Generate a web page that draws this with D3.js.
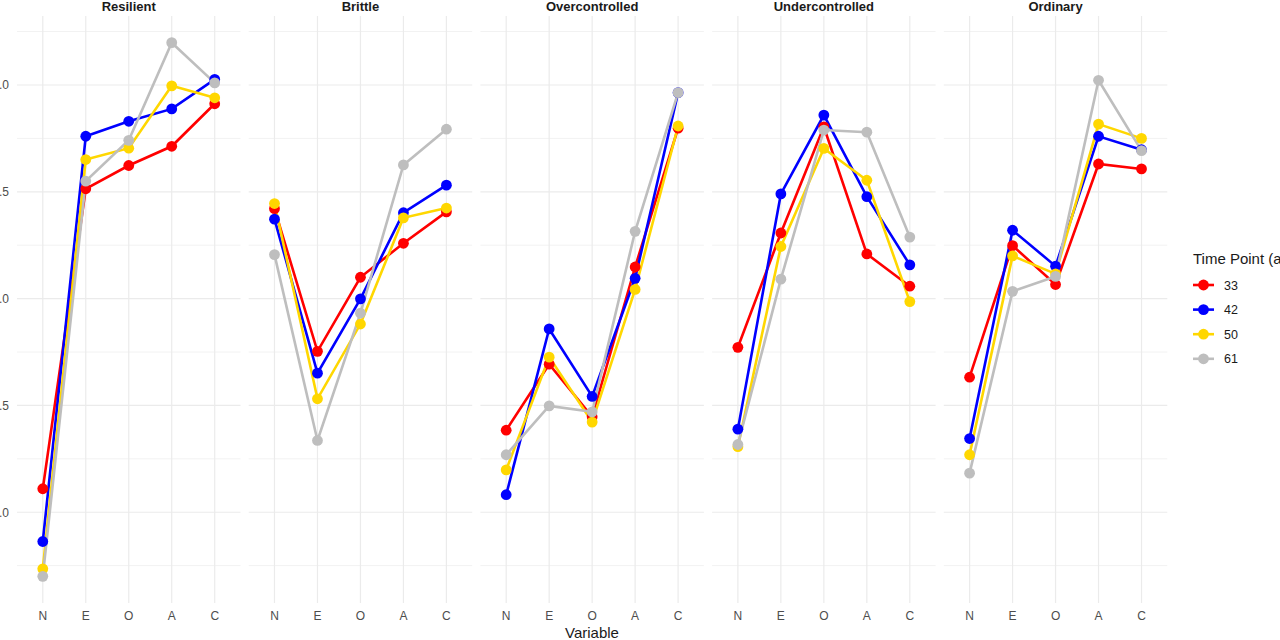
<!DOCTYPE html>
<html><head><meta charset="utf-8">
<script src="https://cdn.jsdelivr.net/npm/d3@7"></script>
<style>body{margin:0;background:#fff;}svg{display:block;font-family:"Liberation Sans",Arial,sans-serif;}</style>
</head><body><svg id="c" width="1280" height="640"></svg>
<script>
const panels = ["Resilient","Brittle","Overcontrolled","Undercontrolled","Ordinary"];
const variables = ["N","E","O","A","C"];
const timePoints = ["33","42","50","61"];
const colors = ["#ff0000","#0000ff","#ffd700","#bebebe"];
const yTicks = [-1.0,-0.5,0.0,0.5,1.0];
const yMinor = [-1.25,-0.75,-0.25,0.25,0.75,1.25];
// values[panel][timepoint] = [N,E,O,A,C]
const resilient = [
  [-0.89, 0.514, 0.623, 0.713, 0.912],
  [-1.137, 0.76, 0.83, 0.888, 1.026],
  [-1.265, 0.651, 0.704, 0.996, 0.94],
  [-1.30, 0.55, 0.741, 1.198, 1.01]];
const brittle = [
  [0.421, -0.247, 0.100, 0.259, 0.406],
  [0.372, -0.349, -0.001, 0.402, 0.531],
  [0.445, -0.469, -0.119, 0.378, 0.424],
  [0.206, -0.664, -0.068, 0.626, 0.793]];
const overcontrolled = [
  [-0.616, -0.307, -0.553, 0.148, 0.798],
  [-0.918, -0.142, -0.458, 0.095, 0.964],
  [-0.802, -0.274, -0.578, 0.043, 0.808],
  [-0.731, -0.502, -0.530, 0.315, 0.964]];
const undercontrolled = [
  [-0.228, 0.307, 0.804, 0.209, 0.058],
  [-0.611, 0.490, 0.859, 0.477, 0.158],
  [-0.693, 0.244, 0.703, 0.554, -0.014],
  [-0.683, 0.091, 0.789, 0.779, 0.288]];
const ordinary = [
  [-0.368, 0.248, 0.066, 0.630, 0.607],
  [-0.655, 0.320, 0.152, 0.760, 0.697],
  [-0.731, 0.200, 0.116, 0.817, 0.750],
  [-0.817, 0.034, 0.104, 1.022, 0.693]];
const panelData = [resilient, brittle, overcontrolled, undercontrolled, ordinary];

const svg = d3.select("#c");
const plotTop = 16, plotBottom = 603;
const allVals = panelData.flat(2);
const lo = d3.min(allVals), hi = d3.max(allVals), pad = (hi-lo)*0.05;
const y = d3.scaleLinear().domain([lo-pad, hi+pad]).range([plotBottom, plotTop]);
const panelLeft = 17, panelW = 223.5, panelGap = 8.2;

panelData.forEach((pd, pi) => {
  const x0 = panelLeft + pi*(panelW+panelGap);
  const x = d3.scalePoint().domain(variables).range([x0, x0+panelW]).padding(0.6);
  const g = svg.append("g");
  g.selectAll(".mn").data(yMinor).join("line")
    .attr("x1", x0).attr("x2", x0+panelW).attr("y1", d=>y(d)).attr("y2", d=>y(d))
    .attr("stroke", "#f2f2f2").attr("stroke-width", 1);
  g.selectAll(".mj").data(yTicks).join("line")
    .attr("x1", x0).attr("x2", x0+panelW).attr("y1", d=>y(d)).attr("y2", d=>y(d))
    .attr("stroke", "#ebebeb").attr("stroke-width", 1.2);
  g.selectAll(".vx").data(variables).join("line")
    .attr("x1", d=>x(d)).attr("x2", d=>x(d)).attr("y1", plotTop).attr("y2", plotBottom)
    .attr("stroke", "#ebebeb").attr("stroke-width", 1.2);
  g.selectAll(".xl").data(variables).join("text")
    .attr("x", d=>x(d)).attr("y", 620).attr("text-anchor","middle")
    .attr("font-size", 12).attr("fill", "#4d4d4d").text(d=>d);
  g.append("text").attr("x", x0+panelW/2).attr("y", 10.5).attr("text-anchor","middle")
    .attr("font-size", 13).attr("font-weight","bold").attr("fill","#1a1a1a").text(panels[pi]);
  const line = d3.line().x((d,i)=>x(variables[i])).y(d=>y(d));
  pd.forEach((vals, ti) => {
    g.append("path").attr("d", line(vals)).attr("fill","none")
      .attr("stroke", colors[ti]).attr("stroke-width", 2.6);
  });
  pd.forEach((vals, ti) => {
    g.selectAll(".p"+ti).data(vals).join("circle")
      .attr("cx", (d,i)=>x(variables[i])).attr("cy", d=>y(d)).attr("r", 5.4)
      .attr("fill", colors[ti]);
  });
});

svg.selectAll(".yl").data(yTicks).join("text")
  .attr("x", 9).attr("y", d=>y(d)+4.3).attr("text-anchor","end")
  .attr("font-size", 12).attr("fill","#4d4d4d").text(d=>d3.format(".1f")(d));

svg.append("text").attr("x", 592).attr("y", 638).attr("text-anchor","middle")
  .attr("font-size", 15).attr("fill","#1a1a1a").text("Variable");

const lg = svg.append("g");
lg.append("text").attr("x", 1193).attr("y", 264).attr("font-size", 15).attr("fill","#1a1a1a").text("Time Point (age)");
timePoints.forEach((t, i) => {
  const cy = 285 + i*24.6;
  lg.append("line").attr("x1", 1193).attr("x2", 1214).attr("y1", cy).attr("y2", cy)
    .attr("stroke", colors[i]).attr("stroke-width", 2.6);
  lg.append("circle").attr("cx", 1203.5).attr("cy", cy).attr("r", 5.4).attr("fill", colors[i]);
  lg.append("text").attr("x", 1224).attr("y", cy+4.5).attr("font-size", 12.5).attr("fill","#1a1a1a").text(t);
});
</script></body></html>
